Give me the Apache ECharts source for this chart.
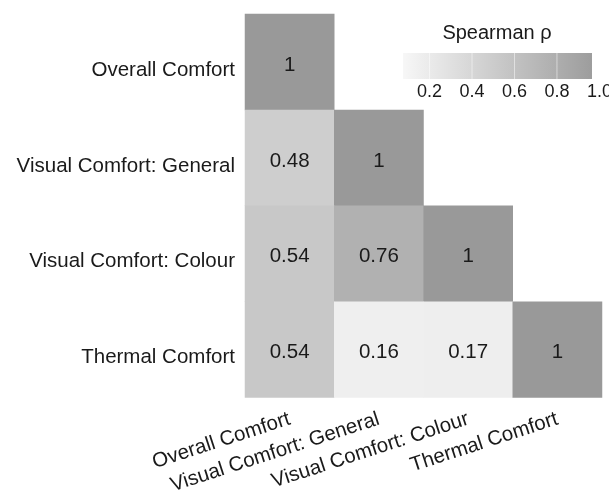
<!DOCTYPE html>
<html lang="en">
<head>
    <meta charset="UTF-8">
    <title>Spearman correlation</title>
    <script src="https://cdn.jsdelivr.net/npm/echarts@6/dist/echarts.min.js"></script>
    <style>
        html, body { margin: 0; padding: 0; background: #fff; }
    </style>
</head>
<body>
<div id="main" style="width: 609px;height: 497px;"></div>
</body>
<script>
    // categories (same order on both axes)
    var categories = ['Overall Comfort', 'Visual Comfort: General', 'Visual Comfort: Colour', 'Thermal Comfort'];

    // lower triangle of the correlation matrix, row by row
    var rho = [
        [1],
        [0.48, 1],
        [0.54, 0.76, 1],
        [0.54, 0.16, 0.17, 1]
    ];

    // colour bar
    var legendTicks = [0.2, 0.4, 0.6, 0.8, 1.0];
    var legendRange = [0.075, 0.965];

    var heatData = [];
    for (var i = 0; i < rho.length; i++) {
        for (var j = 0; j < rho[i].length; j++) {
            heatData.push([j, i, rho[i][j]]);
        }
    }

    var font = 'Liberation Sans, Arial, sans-serif';

    // same grey scale as the visualMap (white at 0, #999 at 1)
    function grey(v) {
        var c = Math.round(255 - 102 * v);
        return 'rgb(' + c + ',' + c + ',' + c + ')';
    }

    // colour bar box
    var barX = 403, barY = 53, barW = 189, barH = 26;
    function barPos(v) {
        return barX + (v - legendRange[0]) / (legendRange[1] - legendRange[0]) * barW;
    }

    var graphics = [{
        type: 'text',
        style: {
            text: 'Spearman ρ',
            x: 497, y: 33,
            textAlign: 'center', textVerticalAlign: 'middle',
            fontSize: 20, fontFamily: font, fill: '#1a1a1a'
        }
    }, {
        type: 'rect',
        shape: {x: barX, y: barY, width: barW, height: barH},
        style: {
            fill: new echarts.graphic.LinearGradient(0, 0, 1, 0, [
                {offset: 0, color: grey(legendRange[0])},
                {offset: 1, color: grey(legendRange[1])}
            ])
        }
    }];
    for (var k = 0; k < legendTicks.length; k++) {
        var px = barPos(legendTicks[k]);
        if (px < barX + barW) {
            graphics.push({
                type: 'line',
                shape: {x1: px, y1: barY, x2: px, y2: barY + barH},
                style: {stroke: 'rgba(255,255,255,0.5)', lineWidth: 1}
            });
        }
        graphics.push({
            type: 'text',
            style: {
                text: legendTicks[k].toFixed(1),
                x: px, y: 92,
                textAlign: 'center', textVerticalAlign: 'middle',
                fontSize: 18, fontFamily: font, fill: '#1a1a1a'
            }
        });
    }

    var chart = echarts.init(document.getElementById('main'));
    var option = {
        backgroundColor: '#fff',
        animation: false,
        grid: {
            left: 245,
            right: 7,
            top: 14,
            bottom: 99
        },
        xAxis: {
            type: 'category',
            data: categories,
            axisLine: {show: false},
            axisTick: {show: false},
            splitLine: {show: false},
            axisLabel: {
                rotate: 18,
                interval: 0,
                margin: 21,
                fontSize: 20.5,
                fontFamily: font,
                color: '#1a1a1a'
            }
        },
        yAxis: {
            type: 'category',
            data: categories,
            inverse: true,
            axisLine: {show: false},
            axisTick: {show: false},
            splitLine: {show: false},
            axisLabel: {
                margin: 10,
                color: '#1a1a1a',
                // labels sit a little below the row centre
                formatter: function (v) {
                    return '{a|' + v + '}';
                },
                rich: {
                    a: {
                        fontSize: 20.5,
                        fontFamily: font,
                        color: '#1a1a1a',
                        padding: [16, 0, 0, 0]
                    }
                }
            }
        },
        visualMap: {
            show: false,
            type: 'continuous',
            min: 0,
            max: 1,
            inRange: {
                color: ['#ffffff', '#999999']
            }
        },
        series: [{
            type: 'heatmap',
            data: heatData,
            label: {
                show: true,
                offset: [0, 3],
                fontSize: 20.5,
                fontFamily: font,
                color: '#1a1a1a',
                formatter: function (p) {
                    return String(p.value[2]);
                }
            },
            emphasis: {disabled: true}
        }],
        graphic: graphics
    };
    chart.setOption(option);
</script>
</html>
